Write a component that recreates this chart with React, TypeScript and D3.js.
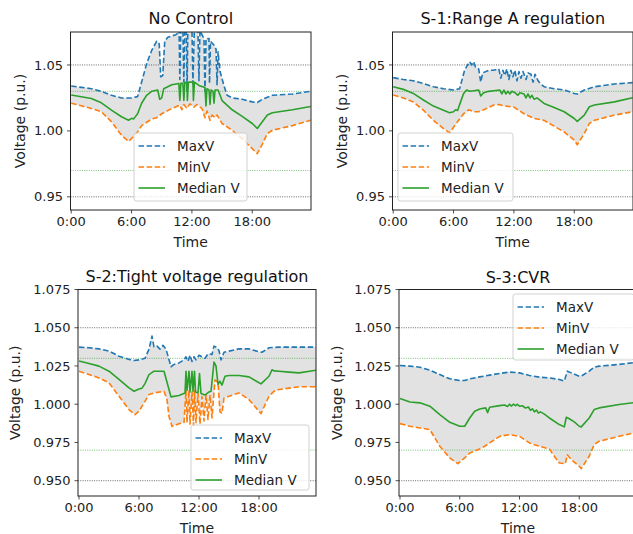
import React from 'react';
import * as d3 from 'd3';

type P = [number, number];

const xTickHours = [0, 6, 12, 18];
const xTickLabels = ['0:00', '6:00', '12:00', '18:00'];
const yTicksTop = [0.95, 1.0, 1.05];
const yTicksBottom = [0.95, 0.975, 1.0, 1.025, 1.05, 1.075];
const titles = ['No Control', 'S-1:Range A regulation', 'S-2:Tight voltage regulation', 'S-3:CVR'];
const limitLines = [0.95, 1.05];
const bandLines = [0.97, 1.03];
const seriesNames = ['MaxV', 'MinV', 'Median V'];

// ---- No Control ----
const ncMax: P[] = [
  [0, 1.034], [1, 1.033], [2, 1.032], [3, 1.030], [4, 1.027], [5, 1.025], [6, 1.025], [6.6, 1.026],
  [7, 1.037], [7.5, 1.051], [8, 1.061], [8.5, 1.068], [8.75, 1.066], [8.9, 1.041], [9.1, 1.042],
  [9.3, 1.068], [9.6, 1.071], [10, 1.072], [10.4, 1.073], [10.6, 1.074], [10.72, 1.08], [10.8, 1.039],
  [10.9, 1.08], [11.1, 1.08], [11.2, 1.037], [11.3, 1.08], [11.45, 1.08], [11.52, 1.030], [11.6, 1.08],
  [12.0, 1.08], [12.1, 1.036], [12.25, 1.08], [12.6, 1.076], [12.7, 1.038], [12.8, 1.076], [13.2, 1.070],
  [13.3, 1.030], [13.4, 1.070], [13.7, 1.070], [13.75, 1.036], [13.85, 1.068], [14.2, 1.065], [14.4, 1.062],
  [14.5, 1.035], [14.6, 1.060], [14.8, 1.045], [15.2, 1.034], [15.5, 1.027], [16, 1.025], [17, 1.024],
  [18, 1.022], [18.5, 1.0215], [19, 1.024], [20, 1.027], [22, 1.028], [23.8, 1.030],
];
const ncMin: P[] = [
  [0, 1.021], [1, 1.019], [2, 1.017], [3, 1.0145], [4, 1.007], [5, 0.9967], [5.7, 0.992], [6.5, 0.998],
  [7, 1.004], [8, 1.009], [8.5, 1.010], [9, 1.013], [10, 1.017], [10.8, 1.0195], [11, 1.016], [11.2, 1.020],
  [11.5, 1.017], [11.8, 1.0205], [12.2, 1.018], [12.5, 1.020], [13, 1.017], [13.3, 1.010], [13.5, 1.015],
  [13.8, 1.008], [14.0, 1.012], [14.3, 1.010], [14.5, 1.012], [15, 1.0056], [16, 1.0005], [17, 0.994],
  [18, 0.9865], [18.5, 0.9827], [19, 0.990], [19.5, 0.998], [20, 1.0005], [22, 1.004], [23.8, 1.008],
];
const ncMed: P[] = [
  [0, 1.0272], [2, 1.0246], [3, 1.0213], [4, 1.0157], [5, 1.0107], [5.7, 1.0081], [6.0, 1.0095], [6.2, 1.009],
  [6.4, 1.011], [6.6, 1.013], [7, 1.021], [7.5, 1.027], [8, 1.030], [8.6, 1.031], [8.8, 1.024], [9.0, 1.025],
  [9.2, 1.032], [10, 1.035], [10.7, 1.036], [10.8, 1.023], [10.9, 1.036], [11.1, 1.036], [11.2, 1.023],
  [11.3, 1.037], [11.5, 1.036], [11.55, 1.023], [11.65, 1.037], [12.1, 1.037], [12.15, 1.023], [12.25, 1.037],
  [12.8, 1.034], [13.3, 1.033], [13.4, 1.019], [13.5, 1.032], [13.7, 1.031], [13.8, 1.020], [13.9, 1.031],
  [14.1, 1.030], [14.2, 1.021], [14.3, 1.031], [14.6, 1.031], [15, 1.023], [16, 1.016], [17, 1.011],
  [18, 1.0056], [18.5, 1.0018], [19, 1.0069], [19.5, 1.012], [20, 1.0137], [22, 1.016], [23.8, 1.0185],
];

// ---- S-1 ----
const s1Max: P[] = [
  [0, 1.0404], [1, 1.039], [2, 1.038], [3, 1.036], [4, 1.0335], [5, 1.032], [6, 1.031], [6.6, 1.032],
  [7.1, 1.046], [7.4, 1.050], [7.6, 1.0525], [7.8, 1.050], [8.0, 1.0525], [8.2, 1.048], [8.5, 1.047],
  [8.7, 1.037], [8.9, 1.044], [9.5, 1.046], [10, 1.046], [10.5, 1.047], [10.7, 1.040], [10.9, 1.046],
  [11.1, 1.042], [11.3, 1.047], [11.5, 1.039], [11.7, 1.046], [11.9, 1.041], [12.1, 1.046], [12.3, 1.038],
  [12.5, 1.045], [12.7, 1.040], [12.9, 1.045], [13.2, 1.039], [13.4, 1.044], [13.7, 1.043], [13.9, 1.037],
  [14.1, 1.043], [14.4, 1.038], [14.6, 1.036], [15, 1.0335], [16, 1.032], [17, 1.031], [18, 1.0284],
  [18.3, 1.028], [19, 1.031], [20, 1.0335], [22, 1.0356], [23.8, 1.0366],
];
const s1Min: P[] = [
  [0, 1.0272], [1, 1.025], [2, 1.022], [3, 1.0157], [4, 1.008], [5, 1.0018], [5.6, 0.9985], [6.5, 1.008],
  [7, 1.013], [7.5, 1.016], [8, 1.0145], [8.5, 1.0145], [9, 1.016], [10, 1.0196], [10.5, 1.020], [11, 1.019],
  [12, 1.018], [13, 1.013], [14, 1.0094], [15, 1.008], [16, 1.0036], [17, 0.9992], [18, 0.993], [18.3, 0.9895],
  [19, 0.998], [19.5, 1.0056], [20, 1.008], [22, 1.012], [23.8, 1.0145],
];
const s1Med: P[] = [
  [0, 1.0335], [1, 1.0315], [2, 1.0284], [3, 1.0234], [4, 1.0188], [5, 1.0157], [5.6, 1.0137], [6.0, 1.0145],
  [6.2, 1.016], [6.4, 1.0155], [6.7, 1.022], [7.0, 1.0284], [7.3, 1.031], [7.6, 1.030], [8.0, 1.0305],
  [8.5, 1.031], [8.7, 1.0265], [9.0, 1.029], [9.5, 1.030], [10, 1.0305], [10.6, 1.031], [10.8, 1.028],
  [11.0, 1.031], [11.2, 1.028], [11.4, 1.030], [11.6, 1.028], [11.8, 1.030], [12.1, 1.029], [12.4, 1.027],
  [12.6, 1.029], [13.0, 1.028], [13.2, 1.025], [13.4, 1.028], [13.6, 1.025], [13.8, 1.027], [14.0, 1.024],
  [14.3, 1.025], [15, 1.0208], [16, 1.0178], [17, 1.0145], [18, 1.0094], [18.3, 1.0072], [19, 1.012],
  [19.5, 1.0183], [20, 1.0196], [22, 1.022], [23.8, 1.0252],
];

// ---- S-2 ----
const s2Max: P[] = [
  [0, 1.0373], [1, 1.0369], [2, 1.0362], [3, 1.0347], [4, 1.0314], [5, 1.0293], [5.5, 1.0286], [6, 1.029],
  [6.6, 1.030], [7.0, 1.036], [7.3, 1.0445], [7.5, 1.0375], [7.8, 1.038], [8.1, 1.036], [8.4, 1.0385],
  [8.7, 1.036], [9.0, 1.0293], [9.2, 1.0245], [9.5, 1.026], [10.0, 1.027], [10.5, 1.029], [10.7, 1.031],
  [10.9, 1.028], [11.1, 1.032], [11.3, 1.028], [11.5, 1.031], [11.7, 1.029], [12.0, 1.032], [12.3, 1.031],
  [12.6, 1.030], [12.9, 1.033], [13.3, 1.0325], [13.5, 1.038], [13.8, 1.037], [14.0, 1.035], [14.2, 1.029],
  [14.5, 1.034], [15, 1.0347], [16, 1.0362], [17, 1.0362], [18, 1.0343], [18.3, 1.034], [19, 1.0369],
  [20, 1.0373], [23.8, 1.0373],
];
const s2Min: P[] = [
  [0, 1.0216], [1, 1.0194], [2, 1.0172], [3, 1.014], [4, 1.0052], [5, 0.9965], [5.6, 0.9932], [6, 0.9954],
  [6.5, 1.0009], [7, 1.0063], [7.5, 1.0074], [8.5, 1.0085], [8.8, 1.003], [9.0, 0.992], [9.3, 0.9855],
  [10, 0.9873], [10.5, 0.988], [10.7, 1.009], [10.8, 0.988], [11.0, 1.009], [11.1, 0.987], [11.3, 1.008],
  [11.45, 0.986], [11.55, 1.009], [11.7, 0.988], [11.9, 1.007], [12.1, 0.987], [12.3, 1.005], [12.5, 0.989],
  [12.7, 1.006], [12.9, 0.990], [13.1, 1.006], [13.3, 0.991], [13.6, 1.016], [13.9, 1.014], [14.1, 0.995],
  [14.3, 0.994], [14.5, 1.004], [15, 1.0052], [16, 1.0074], [17, 1.003], [18, 0.9954], [18.2, 0.9939],
  [19, 1.0052], [19.5, 1.0085], [20, 1.0096], [22, 1.0114], [23.8, 1.0114],
];
const s2Med: P[] = [
  [0, 1.0282], [1, 1.0266], [2, 1.0249], [3, 1.0216], [4, 1.0162], [5, 1.0107], [5.5, 1.0085], [6, 1.010],
  [6.3, 1.0105], [6.6, 1.0135], [7, 1.0194], [7.5, 1.0216], [8.5, 1.0216], [9.0, 1.0096], [9.2, 1.0048],
  [10, 1.0057], [10.6, 1.0074], [10.7, 1.0216], [10.8, 1.009], [11.0, 1.0216], [11.1, 1.008], [11.3, 1.0216],
  [11.4, 1.0085], [11.55, 1.0216], [11.65, 1.008], [11.9, 1.0075], [12.05, 1.020], [12.2, 1.007],
  [12.6, 1.006], [13.0, 1.008], [13.2, 1.0085], [13.5, 1.0275], [13.7, 1.025], [13.9, 1.013], [14.1, 1.015],
  [14.3, 1.0125], [14.6, 1.0183], [15, 1.0188], [16, 1.0188], [17, 1.0179], [18, 1.014], [18.2, 1.0133],
  [19, 1.0183], [19.3, 1.0225], [19.5, 1.0218], [20, 1.0216], [21, 1.021], [22, 1.0205], [23.8, 1.0223],
];

// ---- S-3 ----
const s3Max: P[] = [
  [0, 1.0253], [1, 1.0249], [2, 1.0242], [3, 1.0223], [4, 1.0194], [5, 1.0166], [6, 1.0155], [6.5, 1.0155],
  [7, 1.0166], [8, 1.0179], [9, 1.019], [10, 1.0201], [11, 1.021], [12, 1.0205], [13, 1.0188], [14, 1.0177],
  [15, 1.0172], [16, 1.0162], [16.5, 1.0151], [16.8, 1.0216], [17.2, 1.0205], [18, 1.0183], [18.3, 1.0188],
  [19, 1.0216], [19.5, 1.0242], [20, 1.0249], [22, 1.026], [23.8, 1.0275],
];
const s3Min: P[] = [
  [0, 0.9873], [1, 0.9856], [2, 0.9845], [3, 0.9834], [4, 0.9725], [5, 0.9649], [5.8, 0.9611], [6.5, 0.9649],
  [7, 0.9681], [8, 0.9707], [8.5, 0.9725], [9, 0.9747], [10, 0.979], [11, 0.9801], [12, 0.979], [13, 0.9747],
  [13.5, 0.9735], [14, 0.9725], [15, 0.9707], [15.5, 0.966], [16, 0.9616], [16.6, 0.9611], [16.8, 0.967],
  [17.2, 0.9638], [18, 0.9594], [18.2, 0.9579], [19, 0.966], [19.5, 0.9736], [20, 0.9758], [22, 0.979],
  [23.8, 0.9817],
];
const s3Med: P[] = [
  [0, 1.0037], [1, 1.0015], [2, 1.0009], [3, 0.9987], [4, 0.9932], [5, 0.9882], [6, 0.9856], [6.5, 0.9856],
  [7, 0.991], [7.5, 0.9954], [8, 0.9969], [8.6, 0.9976], [8.8, 0.9945], [9.0, 0.998], [10, 0.9991],
  [10.5, 0.9995], [10.8, 0.9985], [11.0, 1.0], [11.2, 0.9988], [11.4, 1.0001], [11.6, 0.999], [11.8, 1.0],
  [12.0, 0.9987], [12.3, 0.999], [12.6, 0.9975], [12.9, 0.9982], [13.1, 0.996], [13.3, 0.997], [13.5, 0.995],
  [13.7, 0.9962], [13.9, 0.9942], [14.1, 0.995], [14.5, 0.9935], [15, 0.991], [16, 0.9867], [16.5, 0.9852],
  [16.7, 0.9915], [17.0, 0.9905], [17.5, 0.9885], [18, 0.9856], [18.2, 0.9852], [19, 0.991], [19.5, 0.9965],
  [20, 0.9976], [22, 0.9998], [23.8, 1.0013],
];

const COLORS = ['#1f77b4', '#ff7f0e', '#2ca02c'];
const DASHES = ['5.5,2.6', '5.5,2.6', null];
const FONT = 'DejaVu Sans, sans-serif';

const panels = [
  { title: titles[0], box: [70.5, 32, 311, 210], xDom: [-0.07, 23.84], yTicks: yTicksTop, fmt: '.2f',
    series: [ncMax, ncMin, ncMed], legend: [134, 133, 113, 68], ylabX: 20, titleY: 24 },
  { title: titles[1], box: [392.5, 32, 633, 210], xDom: [-0.07, 23.84], yTicks: yTicksTop, fmt: '.2f',
    series: [s1Max, s1Min, s1Med], legend: [398, 133, 115, 68], ylabX: 342, titleY: 24 },
  { title: titles[2], box: [78, 289.5, 316, 496], xDom: [-0.1, 23.7], yTicks: yTicksBottom, fmt: '.3f',
    series: [s2Max, s2Min, s2Med], legend: [191, 425, 118, 65], ylabX: 15, titleY: 282 },
  { title: titles[3], box: [399, 289.5, 637, 496], xDom: [-0.1, 23.8], yTicks: yTicksBottom, fmt: '.3f',
    series: [s3Max, s3Min, s3Med], legend: [513, 294, 121, 66], ylabX: 337, titleY: 283 },
];

function Panel({ p, idx }: { p: typeof panels[number]; idx: number }) {
  const [x0, y0, x1, y1] = p.box;
  const x = d3.scaleLinear().domain(p.xDom).range([x0, x1]);
  const y = d3.scaleLinear().domain([0.94, 1.075]).range([y1, y0]);
  const line = d3.line<P>().x((d) => x(d[0])).y((d) => y(d[1]));
  const [mx, mn] = p.series;
  const fillPts: P[] = [...mx, ...mn.slice().reverse()];
  const clipId = `clip${idx}`;
  const fmt = d3.format(p.fmt);
  const [lx, ly, lw, lh] = p.legend;
  return (
    <g>
      <defs>
        <clipPath id={clipId}>
          <rect x={x0} y={y0} width={x1 - x0} height={y1 - y0} />
        </clipPath>
      </defs>
      <g clipPath={`url(#${clipId})`}>
        <path d={line(fillPts) + 'Z'} fill="#d8d8d8" fillOpacity={0.75} stroke="none" />
        {limitLines.map((v) => (
          <line key={'l' + v} x1={x0} x2={x1} y1={y(v)} y2={y(v)} stroke="#444" strokeWidth={0.8} strokeDasharray="1,1.3" />
        ))}
        {bandLines.map((v) => (
          <line key={'b' + v} x1={x0} x2={x1} y1={y(v)} y2={y(v)} stroke="#2ca02c" strokeWidth={0.8} strokeDasharray="1,1.3" opacity={0.8} />
        ))}
        {p.series.map((s, i) => (
          <path key={i} d={line(s) || ''} fill="none" stroke={COLORS[i]} strokeWidth={1.6}
            strokeDasharray={DASHES[i] || undefined} strokeLinejoin="round" />
        ))}
      </g>
      <rect x={x0} y={y0} width={x1 - x0} height={y1 - y0} fill="none" stroke="#222" strokeWidth={1} />
      {xTickHours.map((h, i) => (
        <g key={'x' + h}>
          <line x1={x(h)} x2={x(h)} y1={y1} y2={y1 + 3.5} stroke="#222" strokeWidth={0.8} />
          <text x={x(h)} y={y1 + 15.5} textAnchor="middle" fontSize={13} fontFamily={FONT} fill="#222">{xTickLabels[i]}</text>
        </g>
      ))}
      {p.yTicks.map((v) => (
        <g key={'y' + v}>
          <line x1={x0 - 3.5} x2={x0} y1={y(v)} y2={y(v)} stroke="#222" strokeWidth={0.8} />
          <text x={x0 - 7.5} y={y(v)} dy="0.35em" textAnchor="end" fontSize={13} fontFamily={FONT} fill="#222">{fmt(v)}</text>
        </g>
      ))}
      <text x={(x0 + x1) / 2} y={y1 + 36.5} textAnchor="middle" fontSize={14} fontFamily={FONT} fill="#222">Time</text>
      <text transform={`translate(${p.ylabX},${(y0 + y1) / 2}) rotate(-90)`} textAnchor="middle" dy="0.35em"
        fontSize={14} fontFamily={FONT} fill="#222">Voltage (p.u.)</text>
      <text x={(x0 + x1) / 2} y={p.titleY} textAnchor="middle" fontSize={16} fontFamily={FONT} fill="#111">{p.title}</text>
      <g>
        <rect x={lx} y={ly} width={lw} height={lh} rx={2.5} fill="#fff" fillOpacity={0.8} stroke="#ccc" strokeWidth={0.9} />
        {seriesNames.map((n, i) => {
          const ry = ly + 13 + i * 21;
          return (
            <g key={n}>
              <line x1={lx + 4.5} x2={lx + 31} y1={ry} y2={ry} stroke={COLORS[i]} strokeWidth={1.6}
                strokeDasharray={DASHES[i] || undefined} />
              <text x={lx + 43} y={ry} dy="0.35em" fontSize={13.5} fontFamily={FONT} fill="#222">{n}</text>
            </g>
          );
        })}
      </g>
    </g>
  );
}

export default function App() {
  return (
    <svg width={633} height={534} style={{ position: 'absolute', left: 0, top: 0, background: '#fff' }}>
      <rect width={633} height={534} fill="#fff" />
      {panels.map((p, i) => <Panel key={i} p={p} idx={i} />)}
    </svg>
  );
}
